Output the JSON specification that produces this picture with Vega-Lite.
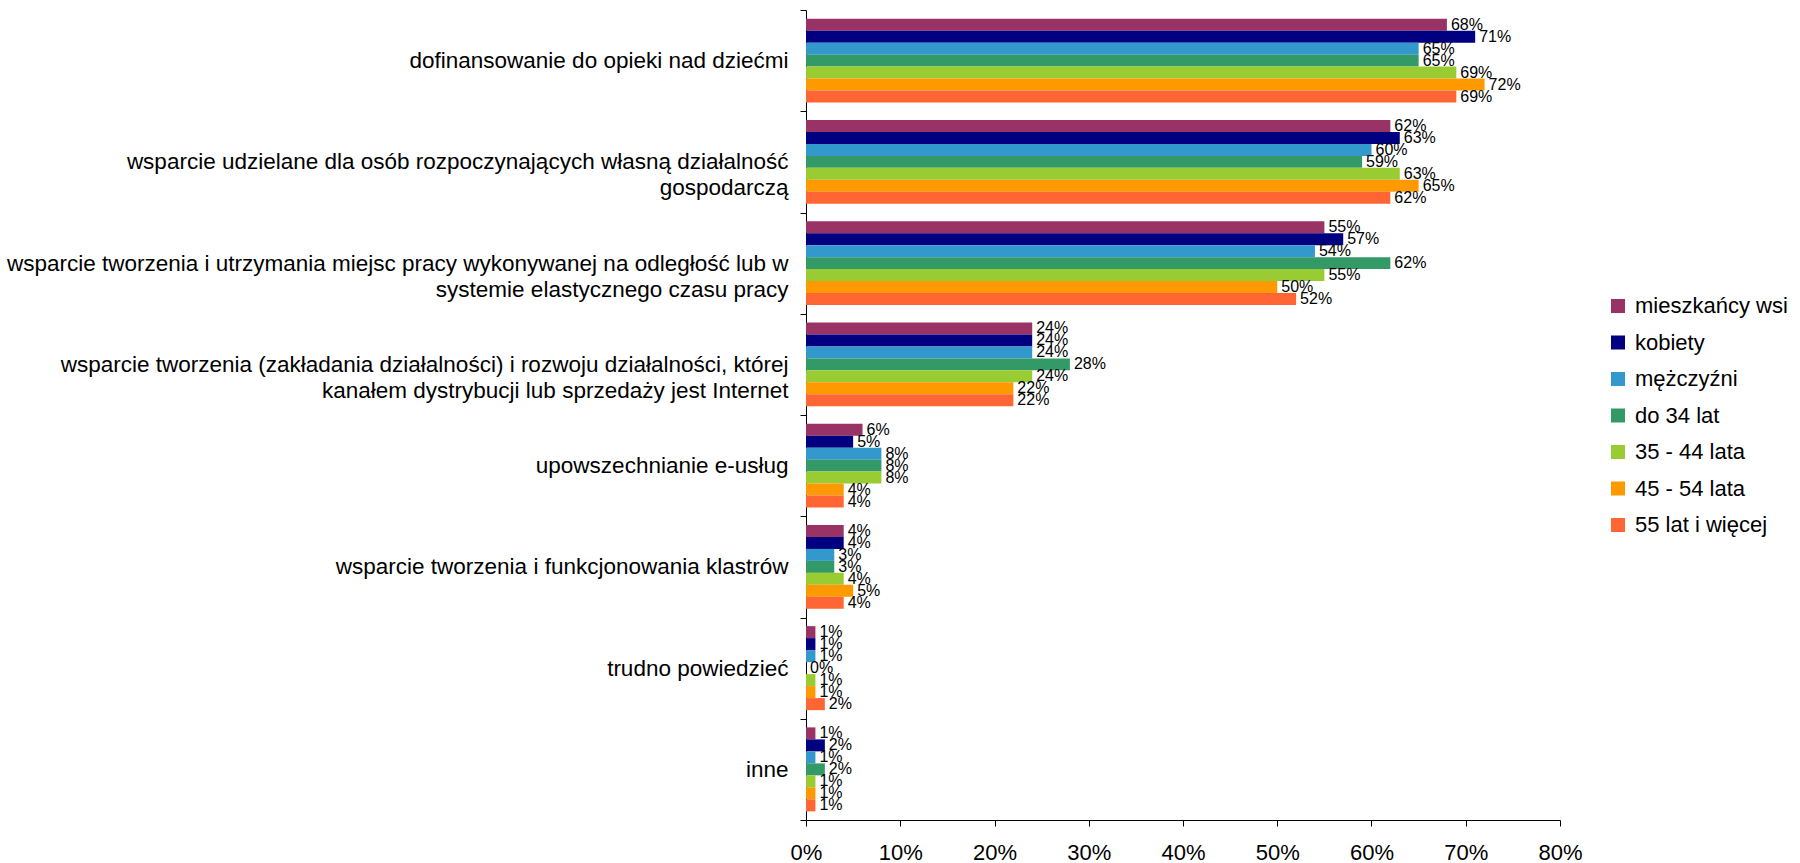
{
  "$schema": "https://vega.github.io/schema/vega-lite/v6.json",
  "autosize": {"type": "none"},
  "padding": {"left": 806, "top": 10, "right": 240, "bottom": 43},
  "width": 754,
  "height": 810,
  "background": "white",
  "config": {
    "font": "Liberation Sans",
    "view": {"stroke": null},
    "axis": {"domainColor": "#000000", "tickColor": "#000000", "labelColor": "#000000", "grid": false, "domainWidth": 1, "tickWidth": 1}
  },
  "data": {
    "values": [
      {"kategoria": "dofinansowanie do opieki nad dziećmi", "grupa": "mieszkańcy wsi", "wartosc": 0.68},
      {"kategoria": "dofinansowanie do opieki nad dziećmi", "grupa": "kobiety", "wartosc": 0.71},
      {"kategoria": "dofinansowanie do opieki nad dziećmi", "grupa": "mężczyźni", "wartosc": 0.65},
      {"kategoria": "dofinansowanie do opieki nad dziećmi", "grupa": "do 34 lat", "wartosc": 0.65},
      {"kategoria": "dofinansowanie do opieki nad dziećmi", "grupa": "35 - 44 lata", "wartosc": 0.69},
      {"kategoria": "dofinansowanie do opieki nad dziećmi", "grupa": "45 - 54 lata", "wartosc": 0.72},
      {"kategoria": "dofinansowanie do opieki nad dziećmi", "grupa": "55 lat i więcej", "wartosc": 0.69},
      {"kategoria": "wsparcie udzielane dla osób rozpoczynających własną działalność gospodarczą", "grupa": "mieszkańcy wsi", "wartosc": 0.62},
      {"kategoria": "wsparcie udzielane dla osób rozpoczynających własną działalność gospodarczą", "grupa": "kobiety", "wartosc": 0.63},
      {"kategoria": "wsparcie udzielane dla osób rozpoczynających własną działalność gospodarczą", "grupa": "mężczyźni", "wartosc": 0.60},
      {"kategoria": "wsparcie udzielane dla osób rozpoczynających własną działalność gospodarczą", "grupa": "do 34 lat", "wartosc": 0.59},
      {"kategoria": "wsparcie udzielane dla osób rozpoczynających własną działalność gospodarczą", "grupa": "35 - 44 lata", "wartosc": 0.63},
      {"kategoria": "wsparcie udzielane dla osób rozpoczynających własną działalność gospodarczą", "grupa": "45 - 54 lata", "wartosc": 0.65},
      {"kategoria": "wsparcie udzielane dla osób rozpoczynających własną działalność gospodarczą", "grupa": "55 lat i więcej", "wartosc": 0.62},
      {"kategoria": "wsparcie tworzenia i utrzymania miejsc pracy wykonywanej na odległość lub w systemie elastycznego czasu pracy", "grupa": "mieszkańcy wsi", "wartosc": 0.55},
      {"kategoria": "wsparcie tworzenia i utrzymania miejsc pracy wykonywanej na odległość lub w systemie elastycznego czasu pracy", "grupa": "kobiety", "wartosc": 0.57},
      {"kategoria": "wsparcie tworzenia i utrzymania miejsc pracy wykonywanej na odległość lub w systemie elastycznego czasu pracy", "grupa": "mężczyźni", "wartosc": 0.54},
      {"kategoria": "wsparcie tworzenia i utrzymania miejsc pracy wykonywanej na odległość lub w systemie elastycznego czasu pracy", "grupa": "do 34 lat", "wartosc": 0.62},
      {"kategoria": "wsparcie tworzenia i utrzymania miejsc pracy wykonywanej na odległość lub w systemie elastycznego czasu pracy", "grupa": "35 - 44 lata", "wartosc": 0.55},
      {"kategoria": "wsparcie tworzenia i utrzymania miejsc pracy wykonywanej na odległość lub w systemie elastycznego czasu pracy", "grupa": "45 - 54 lata", "wartosc": 0.50},
      {"kategoria": "wsparcie tworzenia i utrzymania miejsc pracy wykonywanej na odległość lub w systemie elastycznego czasu pracy", "grupa": "55 lat i więcej", "wartosc": 0.52},
      {"kategoria": "wsparcie tworzenia (zakładania działalności) i rozwoju działalności, której kanałem dystrybucji lub sprzedaży jest Internet", "grupa": "mieszkańcy wsi", "wartosc": 0.24},
      {"kategoria": "wsparcie tworzenia (zakładania działalności) i rozwoju działalności, której kanałem dystrybucji lub sprzedaży jest Internet", "grupa": "kobiety", "wartosc": 0.24},
      {"kategoria": "wsparcie tworzenia (zakładania działalności) i rozwoju działalności, której kanałem dystrybucji lub sprzedaży jest Internet", "grupa": "mężczyźni", "wartosc": 0.24},
      {"kategoria": "wsparcie tworzenia (zakładania działalności) i rozwoju działalności, której kanałem dystrybucji lub sprzedaży jest Internet", "grupa": "do 34 lat", "wartosc": 0.28},
      {"kategoria": "wsparcie tworzenia (zakładania działalności) i rozwoju działalności, której kanałem dystrybucji lub sprzedaży jest Internet", "grupa": "35 - 44 lata", "wartosc": 0.24},
      {"kategoria": "wsparcie tworzenia (zakładania działalności) i rozwoju działalności, której kanałem dystrybucji lub sprzedaży jest Internet", "grupa": "45 - 54 lata", "wartosc": 0.22},
      {"kategoria": "wsparcie tworzenia (zakładania działalności) i rozwoju działalności, której kanałem dystrybucji lub sprzedaży jest Internet", "grupa": "55 lat i więcej", "wartosc": 0.22},
      {"kategoria": "upowszechnianie e-usług", "grupa": "mieszkańcy wsi", "wartosc": 0.06},
      {"kategoria": "upowszechnianie e-usług", "grupa": "kobiety", "wartosc": 0.05},
      {"kategoria": "upowszechnianie e-usług", "grupa": "mężczyźni", "wartosc": 0.08},
      {"kategoria": "upowszechnianie e-usług", "grupa": "do 34 lat", "wartosc": 0.08},
      {"kategoria": "upowszechnianie e-usług", "grupa": "35 - 44 lata", "wartosc": 0.08},
      {"kategoria": "upowszechnianie e-usług", "grupa": "45 - 54 lata", "wartosc": 0.04},
      {"kategoria": "upowszechnianie e-usług", "grupa": "55 lat i więcej", "wartosc": 0.04},
      {"kategoria": "wsparcie tworzenia i funkcjonowania klastrów", "grupa": "mieszkańcy wsi", "wartosc": 0.04},
      {"kategoria": "wsparcie tworzenia i funkcjonowania klastrów", "grupa": "kobiety", "wartosc": 0.04},
      {"kategoria": "wsparcie tworzenia i funkcjonowania klastrów", "grupa": "mężczyźni", "wartosc": 0.03},
      {"kategoria": "wsparcie tworzenia i funkcjonowania klastrów", "grupa": "do 34 lat", "wartosc": 0.03},
      {"kategoria": "wsparcie tworzenia i funkcjonowania klastrów", "grupa": "35 - 44 lata", "wartosc": 0.04},
      {"kategoria": "wsparcie tworzenia i funkcjonowania klastrów", "grupa": "45 - 54 lata", "wartosc": 0.05},
      {"kategoria": "wsparcie tworzenia i funkcjonowania klastrów", "grupa": "55 lat i więcej", "wartosc": 0.04},
      {"kategoria": "trudno powiedzieć", "grupa": "mieszkańcy wsi", "wartosc": 0.01},
      {"kategoria": "trudno powiedzieć", "grupa": "kobiety", "wartosc": 0.01},
      {"kategoria": "trudno powiedzieć", "grupa": "mężczyźni", "wartosc": 0.01},
      {"kategoria": "trudno powiedzieć", "grupa": "do 34 lat", "wartosc": 0},
      {"kategoria": "trudno powiedzieć", "grupa": "35 - 44 lata", "wartosc": 0.01},
      {"kategoria": "trudno powiedzieć", "grupa": "45 - 54 lata", "wartosc": 0.01},
      {"kategoria": "trudno powiedzieć", "grupa": "55 lat i więcej", "wartosc": 0.02},
      {"kategoria": "inne", "grupa": "mieszkańcy wsi", "wartosc": 0.01},
      {"kategoria": "inne", "grupa": "kobiety", "wartosc": 0.02},
      {"kategoria": "inne", "grupa": "mężczyźni", "wartosc": 0.01},
      {"kategoria": "inne", "grupa": "do 34 lat", "wartosc": 0.02},
      {"kategoria": "inne", "grupa": "35 - 44 lata", "wartosc": 0.01},
      {"kategoria": "inne", "grupa": "45 - 54 lata", "wartosc": 0.01},
      {"kategoria": "inne", "grupa": "55 lat i więcej", "wartosc": 0.01}
    ]
  },
  "encoding": {
    "y": {
      "field": "kategoria",
      "type": "nominal",
      "sort": null,
      "title": null,
      "scale": {"paddingInner": 0, "paddingOuter": 0},
      "axis": {
        "tickBand": "extent",
        "tickSize": 6,
        "labelFontSize": 22.5,
        "labelLineHeight": 26,
        "labelLimit": 900,
        "labelPadding": 12,
        "labelExpr": "split(replace(replace(replace(datum.label, 'działalność gospodarczą', 'działalność|gospodarczą'), 'lub w systemie', 'lub w|systemie'), 'której kanałem', 'której|kanałem'), '|')"
      }
    },
    "yOffset": {
      "field": "grupa",
      "type": "nominal",
      "sort": ["mieszkańcy wsi", "kobiety", "mężczyźni", "do 34 lat", "35 - 44 lata", "45 - 54 lata", "55 lat i więcej"],
      "scale": {"paddingInner": 0, "paddingOuter": 0.72}
    },
    "x": {
      "field": "wartosc",
      "type": "quantitative",
      "title": null,
      "scale": {"domain": [0, 0.8], "nice": false},
      "axis": {"values": [0, 0.1, 0.2, 0.3, 0.4, 0.5, 0.6, 0.7, 0.8], "format": ".0%", "labelFontSize": 22, "tickSize": 6, "labelPadding": 16, "labelFlush": false}
    }
  },
  "layer": [
    {
      "mark": {"type": "bar"},
      "encoding": {
        "color": {
          "field": "grupa",
          "type": "nominal",
          "sort": ["mieszkańcy wsi", "kobiety", "mężczyźni", "do 34 lat", "35 - 44 lata", "45 - 54 lata", "55 lat i więcej"],
          "scale": {
            "domain": ["mieszkańcy wsi", "kobiety", "mężczyźni", "do 34 lat", "35 - 44 lata", "45 - 54 lata", "55 lat i więcej"],
            "range": ["#993366", "#000080", "#3399CC", "#339966", "#99CC33", "#FF9900", "#FF6633"]
          },
          "legend": {
            "title": null,
            "orient": "none",
            "legendX": 801,
            "legendY": 285,
            "symbolType": "square",
            "symbolSize": 196,
            "symbolStrokeWidth": 0,
            "labelFontSize": 22,
            "labelColor": "#000000",
            "labelOffset": 6,
            "rowPadding": 14.5,
            "labelLimit": 300
          }
        }
      }
    },
    {
      "mark": {"type": "text", "align": "left", "baseline": "middle", "dx": 4, "fontSize": 16, "color": "#000000"},
      "encoding": {
        "text": {"field": "wartosc", "type": "quantitative", "format": ".0%"}
      }
    }
  ]
}
